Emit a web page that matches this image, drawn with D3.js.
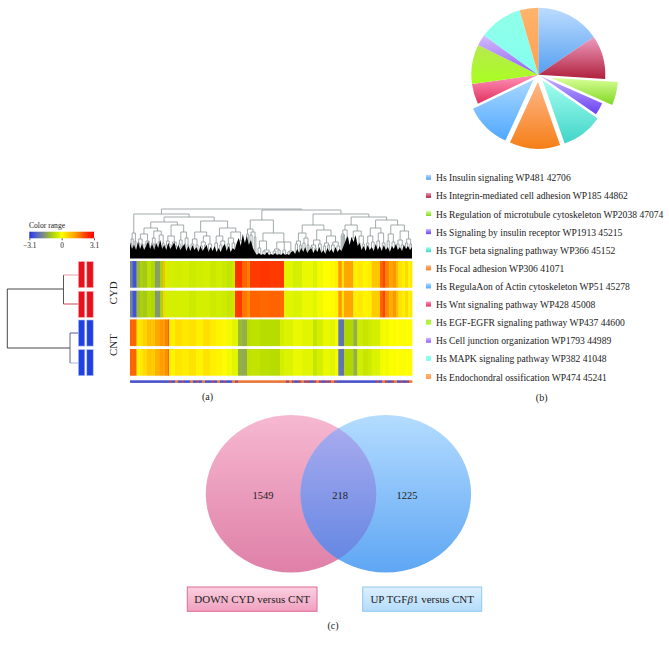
<!DOCTYPE html>
<html><head><meta charset="utf-8">
<script src="https://cdnjs.cloudflare.com/ajax/libs/d3/7.8.5/d3.min.js"></script>
<style>html,body{margin:0;padding:0;background:#fff}svg{display:block}text{font-family:"Liberation Serif",serif;fill:#222}</style>
</head><body><svg id="c" width="669" height="647"></svg>
<script>
// ---------- data ----------
const pathways = ["Hs Insulin signaling WP481 42706","Hs Integrin-mediated cell adhesion WP185 44862","Hs Regulation of microtubule cytoskeleton WP2038 47074","Hs Signaling by insulin receptor WP1913 45215","Hs TGF beta signaling pathway WP366 45152","Hs Focal adhesion WP306 41071","Hs RegulaAon of Actin cytoskeleton WP51 45278","Hs Wnt signaling pathway WP428 45008","Hs EGF-EGFR signaling pathway WP437 44600","Hs Cell junction organization WP1793 44989","Hs MAPK signaling pathway WP382 41048","Hs Endochondral ossification WP474 45241"];
const pieShares = [15.5,10.5,5.6,3.0,10.0,12.2,11.0,4.9,9.5,2.7,10.5,4.5];
const pieExplode = [0,0,13,3,7,7,7,0,0,0,0,0];
const pieTop = ["#bcdcff","#ee9cc0","#d8ff98","#c4b4ff","#a4fff0","#ffb88c","#a8d8ff","#ff94b8","#b8e850","#d4bcff","#90ffe8","#ffb46c"];
const pieBottom = ["#559ff0","#b0203c","#80d822","#6a40f0","#40d4c8","#f57f17","#50a8ff","#e03060","#a8ff20","#9060f0","#84fff0","#ffa050"];

const sampleGroups = ["CYD","CNT"];
const colorTicks = [-3.1,0,3.1];
const colorDomain = [-3.1,-2.6,-1.7,-0.8,-0.3,0,1.3,2.4,3.1];
const colorRange = ["#2a2ae8","#4a5cd8","#7f8f80","#b0d800","#d4f000","#ffff00","#ffa000","#ff3000","#ff0000"];

// first gene of each stripe, then the value of that stripe in each sample
const geneBreaks = [0,2.5,6.5,10,13,17,21,25,30,33,35,38,39,45,52,59,66,73,80,86,92,97,102,105,108,112,117,120,130,140,150,154,163,172,183,187,193,200,205,208.3,211.7,214,223.3,227.3,233,238,241.7,250,253,255,259,263,266,268.3,272,275,278,280];
const geneEnd = 282;
const cyd1 = [-1.9,-2.7,-1.2,-0.9,-1.0,-0.6,-0.8,-1.5,-0.9,0.9,-0.3,-0.3,-0.3,-0.35,-0.3,-0.4,-0.35,-0.3,-0.45,-0.35,-0.45,-0.55,-0.45,2.4,2.4,1.9,1.6,2.3,2.35,2.3,2.35,-0.2,-0.3,-0.15,-0.25,-0.1,0,0.1,0.2,1.4,0.4,1.2,0.2,0.3,0.15,0.25,0.8,1.9,2.2,1.6,1.2,1.4,0.9,0.4,0.2,0.5,0.1,0.3];
const cyd2 = [-1.9,-2.7,-1.1,-0.9,-1.0,-0.7,-0.8,-1.6,-0.9,0.6,-0.3,-0.3,-0.3,-0.3,-0.3,-0.4,-0.3,-0.3,-0.4,-0.35,-0.4,-0.5,-0.45,2.3,2.3,1.7,1.5,1.9,1.85,1.9,1.85,-0.2,-0.25,-0.15,-0.2,-0.1,0,0.05,0.15,1.4,0.4,1.2,0.2,0.3,0.15,0.2,0.7,1.9,2.2,1.5,1.1,1.4,0.9,0.4,0.2,0.5,0.1,0.3];
const cnt1 = [1.9,1.9,0.3,0.4,0.6,0.9,0.8,1.2,1.4,1.3,1.6,2.0,0.2,0.45,0.3,0.4,0.2,0.45,0.25,0.15,0.1,-0.1,-0.2,-0.2,-1.2,-1.3,-0.7,-0.6,-0.7,-0.7,-0.3,-0.25,-0.15,-0.2,-0.55,-0.3,-0.15,-0.2,-0.1,-2.2,-2.2,-0.8,-1.3,-0.4,-0.5,-0.4,-0.3,-0.1,-0.05,-0.1,0,-0.05,0,0.05,-0.05,0,0.05,0.05];
const cnt2 = [1.9,1.9,0.15,0.3,0.5,0.8,0.7,1.1,1.3,1.2,1.5,1.9,0.15,0.35,0.25,0.4,0.15,0.4,0.2,0.15,0.05,-0.1,-0.2,-0.2,-1.3,-1.35,-0.6,-0.55,-0.65,-0.7,-0.3,-0.25,-0.15,-0.2,-0.5,-0.3,-0.15,-0.2,-0.1,-2.2,-2.2,-0.8,-1.3,-0.35,-0.5,-0.4,-0.25,-0.1,-0.05,-0.1,0,-0.05,0,0.05,-0.05,0,0.05,0.05];
const heatRows = [cyd1,cyd2,cnt1,cnt2];
// annotation strip: 0 blue, 1 orange, 2 mixed, one per 3 genes
const stripClass = [0,0,0,0,0,0,0,0,0,0,0,0,0,2,0,1,0,2,0,0,1,0,2,0,1,0,0,2,0,1,0,2,0,0,1,2,1,1,1,1,1,1,1,1,1,1,1,1,1,1,1,1,2,1,2,0,2,1,2,2,0,2,1,2,0,2,2,1,2,0,0,0,0,0,0,0,0,0,0,0,0,0,2,0,1,2,0,2,1,0,2,0,2,1];

// leaf-mass of the column dendrogram, height per 2 genes
const massHeights = [15,9,13,8,16,9,14,8,12,17,9,14,8,15,10,18,9,13,8,15,9,12,16,8,13,8,11,14,7,12,7,13,8,11,6,12,7,10,13,6,11,7,12,6,10,6,11,14,7,12,6,10,8,15,20,12,24,15,22,13,18,10,6,3,5,3,4,3,6,3,4,3,5,3,4,3,5,3,4,3,6,7,4,9,5,10,6,11,5,8,10,5,9,6,11,5,8,4,10,6,9,5,11,6,9,7,12,17,22,13,21,16,23,12,15,8,12,7,13,8,11,7,14,8,12,7,13,8,11,6,12,9,14,8,11,7,13,9,12,8,11];
const geneTree = [49,
  [44,[25,[19,[15,1,1],[13,1,1]],[17,1,1]],
    [41,
      [36,[30,[24,[19,[15,2,2],[14,1,2]],[17,[14,2,1],[13,2,1]]],[27,[20,[15,2,1],[14,1,2]],[23,[16,2,2],[15,2,1]]]],[33,[22,[17,[13,2,1],[14,1,2]],[16,[13,1,2],[12,2,1]]],[26,[18,[14,2,1],[12,1,2]],[20,[14,1,1],[13,2,1]]]]],
      [37,[26,[19,[14,3,2],[13,2,2]],[22,[16,[12,2,2],[13,2,1]],[14,3,3]]],[30,[22,[15,3,2],[17,[13,2,2],[12,2,1]]],[26,[20,[14,2,2],[15,3,2]],[17,[14,2,2],[13,3,2]]]]]
    ]],
  [48,
    [38,[29,[24,2,1],[26,[23,2,2],[21,2,1]]],[25,[17,[10,3,2],[8,[7,2,2],[6,3,2]]],[16,[9,[7,3,2],[8,2,2]],[8,3,2],[7,[6,2,2],[5,2,1]]]]],
    [44,
      [33,[25,[17,[14,2,2],[13,2,1]],[20,[15,2,2],[13,2,1]]],[28,[18,[13,[11,2,2],[10,2,1]],[14,3,2]],[22,[15,[12,2,2],[13,2,1]],[16,[13,3,2],[12,3,2]]]]],
      [41,[33,[28,[24,[22,1,1],[23,1,1]],[20,2,2]],[27,[20,[15,2,2],[16,1,2]],[22,[15,2,2],[14,2,2]]]],[38,[30,[22,[15,2,2],[16,3,2]],[25,[17,3,2],[15,3,2]]],[33,[24,[17,2,2],[16,3,2]],[27,[18,[14,2,2],[13,2,2]],[19,[15,2,2],[14,2,1]]]]]]
    ]]];
const vennLabels = ["DOWN CYD versus CNT","UP TGFβ1 versus CNT"];
const vennCounts = [1549,218,1225];

// ---------- drawing ----------
const svg = d3.select("#c"), defs = svg.append("defs");
function grad(id,top,bottom){
  const g = defs.append("linearGradient").attr("id",id).attr("x1",0).attr("y1",0).attr("x2",0).attr("y2",1);
  g.append("stop").attr("offset",0).attr("stop-color",top);
  g.append("stop").attr("offset",1).attr("stop-color",bottom);
}
// pie
pieTop.forEach((c,i)=>grad("p"+i,c,pieBottom[i]));
const arcs = d3.pie().sort(null)(pieShares);
const arc = d3.arc().innerRadius(0).outerRadius(67);
svg.append("g").attr("transform","translate(538.3,74.7)").selectAll("path").data(arcs).join("path")
  .attr("d",arc).attr("fill",(d,i)=>`url(#p${i})`)
  .attr("transform",(d,i)=>{const a=(d.startAngle+d.endAngle)/2,o=pieExplode[i];return `translate(${o*Math.sin(a)},${-o*Math.cos(a)})`;});

// pie legend
const ly = d3.scalePoint().domain(d3.range(pathways.length)).range([178.3,377.5]);
const lg = svg.append("g").selectAll("g").data(pathways).join("g").attr("transform",(d,i)=>`translate(0,${ly(i)})`);
lg.append("rect").attr("x",426).attr("y",-3.5).attr("width",5).attr("height",5).attr("fill",(d,i)=>`url(#p${i})`);
lg.append("text").attr("x",436).attr("y",3).attr("font-size",9.6).attr("fill","#333").text(d=>d);

// colour scale
const color = d3.scaleLinear().domain(colorDomain).range(colorRange).clamp(true);
const cx = d3.scaleLinear().domain([-3.1,3.1]).range([29.3,94]);
const lgGrad = defs.append("linearGradient").attr("id","cr");
d3.range(0,1.01,0.05).forEach(t=>lgGrad.append("stop").attr("offset",t).attr("stop-color",color(-3.1+6.2*t)));
svg.append("text").attr("x",29).attr("y",228).attr("font-size",7.6).text("Color range");
svg.append("rect").attr("x",29.3).attr("y",231.7).attr("width",64.7).attr("height",6.6).attr("fill","url(#cr)");
const cAxis = svg.append("g").attr("transform","translate(0,238.3)").call(d3.axisBottom(cx).tickValues(colorTicks).tickSize(2).tickPadding(2.5).tickFormat(d=>d3.format(".1~f")(d).replace("-","−")));
cAxis.select(".domain").remove();
cAxis.selectAll("line").attr("stroke","#555");
cAxis.selectAll("text").attr("font-size",7.4).attr("font-family","Liberation Serif");

// heat map
const rowTop = [261,290.7,319.4,349], rowH = 26.7;
const x = d3.scaleLinear().domain([0,geneEnd]).range([130,412]);
const stripeEnd = i => i+1<geneBreaks.length ? geneBreaks[i+1] : geneEnd;
heatRows.forEach((vals,r)=>{
  svg.append("g").selectAll("rect").data(vals).join("rect")
    .attr("x",(d,i)=>x(geneBreaks[i])).attr("width",(d,i)=>x(stripeEnd(i))-x(geneBreaks[i])+0.4)
    .attr("y",rowTop[r]).attr("height",rowH).attr("fill",d=>color(d));
});
// annotation strip
const sx = d3.scaleBand().domain(d3.range(stripClass.length)).range([130,412]);
const stripColors = ["#4a55c8","#e8783a","#a04a70"];
svg.append("g").selectAll("rect").data(stripClass).join("rect")
  .attr("x",(d,i)=>sx(i)).attr("width",sx.bandwidth()+0.3).attr("y",380.3).attr("height",2.6)
  .attr("fill",d=>stripColors[d]);

// column dendrogram
const th = d3.scaleLinear().domain([0,49]).range([258,209]);
const mx = d3.scalePoint().domain(d3.range(massHeights.length)).range([130,412]);
const leafTotal = (function s(n){return Array.isArray(n)?d3.sum(n.slice(1),s):n;})(geneTree);
const tx = d3.scaleLinear().domain([0,leafTotal]).range([130,412]);
const lines = svg.append("g").attr("stroke","#8a9696").attr("stroke-width",0.8).attr("fill","none");
let pos = 0;
function walk(n){
  if(!Array.isArray(n)){const m=pos+n/2;pos+=n;return {x:tx(m),h:null};}
  const kids = n.slice(1).map(walk), xs = kids.map(k=>k.x), h=n[0];
  kids.forEach(k=>{
    lines.append("line").attr("x1",k.x).attr("x2",k.x).attr("y1",th(h)).attr("y2",k.h===null?th(3):th(k.h));
  });
  lines.append("line").attr("x1",d3.min(xs)).attr("x2",d3.max(xs)).attr("y1",th(h)).attr("y2",th(h));
  return {x:d3.mean([d3.min(xs),d3.max(xs)]),h};
}
walk(geneTree);
svg.append("path").datum(massHeights).attr("fill","#000")
  .attr("d",d3.area().x((d,i)=>mx(i)).y0(258.5).y1(d=>th(d)));

// sample bars and sample dendrogram
const bandC = ["#e8101c","#e8101c","#2040e0","#2040e0"];
[78.4,86.8].forEach(bx=>{
  svg.append("g").selectAll("rect").data(bandC).join("rect").attr("x",bx).attr("width",6.4)
    .attr("y",(d,i)=>rowTop[i]+0.6).attr("height",rowH-0.6).attr("fill",d=>d).attr("stroke",d=>d=="#e8101c"?"#f8b0b0":"#b0c0f8").attr("stroke-width",0.6);
});
const sTree = [
  {p:[[7.3,289],[63.5,289]],c:"#333"},{p:[[7.3,289],[7.3,348]],c:"#333"},{p:[[7.3,348],[70,348]],c:"#333"},
  {p:[[63.5,275],[63.5,304]],c:"#444"},{p:[[63.5,275],[78,275]],c:"#e890a0"},{p:[[63.5,304],[78,304]],c:"#c83040"},
  {p:[[70,333],[70,363]],c:"#556"},{p:[[70,333],[78,333]],c:"#3a4a90"},{p:[[70,363],[78,363]],c:"#9aa8e8"}];
svg.append("g").selectAll("path").data(sTree).join("path").attr("d",d=>d3.line()(d.p)).attr("stroke",d=>d.c).attr("stroke-width",0.9).attr("fill","none");
svg.selectAll(".grp").data(sampleGroups).join("text").attr("class","grp").attr("font-size",11).attr("text-anchor","middle")
  .attr("transform",(d,i)=>`translate(116.5,${[293,345][i]}) rotate(-90)`).text(d=>d);

// venn
grad("vl","#f6b8d0","#df80a8"); grad("vr","#b4dcff","#5ea6f4"); grad("vo","#aeaef0","#5f84e2");
grad("bl","#fbd0e0","#f0a0c0"); grad("br","#dcefff","#b4dcfb");
const vennG = svg.append("g");
defs.append("clipPath").attr("id","lc").append("ellipse").attr("cx",291).attr("cy",493.8).attr("rx",85.3).attr("ry",78.8);
vennG.append("ellipse").attr("cx",291).attr("cy",493.8).attr("rx",85.3).attr("ry",78.8).attr("fill","url(#vl)");
vennG.append("ellipse").attr("cx",385.8).attr("cy",493.8).attr("rx",85.3).attr("ry",78.8).attr("fill","url(#vr)");
vennG.append("ellipse").attr("cx",385.8).attr("cy",493.8).attr("rx",85.3).attr("ry",78.8).attr("fill","url(#vo)").attr("clip-path","url(#lc)");
svg.selectAll(".vc").data(vennCounts).join("text").attr("class","vc").attr("font-size",10.5).attr("text-anchor","middle")
  .attr("x",(d,i)=>[263,340,407][i]).attr("y",498.5).text(d=>d);
const boxes = [{x:187.3,w:129.7,f:"url(#bl)",s:"#e06c90"},{x:362.7,w:119,f:"url(#br)",s:"#90c8ee"}];
svg.selectAll(".bx").data(boxes).join("rect").attr("class","bx").attr("x",d=>d.x).attr("width",d=>d.w).attr("y",587).attr("height",24.3).attr("fill",d=>d.f).attr("stroke",d=>d.s);
const bt = svg.selectAll(".bt").data(vennLabels).join("text").attr("class","bt").attr("font-size",11).attr("text-anchor","middle")
  .attr("x",(d,i)=>boxes[i].x+boxes[i].w/2).attr("y",602.5);
bt.each(function(d){
  const m=d.split("β"), t=d3.select(this);
  t.append("tspan").text(m[0]);
  if(m[1]!==undefined){t.append("tspan").attr("font-style","italic").text("β");t.append("tspan").text(m[1]);}
});
// panel letters
svg.selectAll(".pl").data([["(a)",207.5,400],["(b)",541.7,401],["(c)",333,629]]).join("text").attr("class","pl").attr("font-size",10).attr("text-anchor","middle")
  .attr("x",d=>d[1]).attr("y",d=>d[2]).text(d=>d[0]);
</script></body></html>
